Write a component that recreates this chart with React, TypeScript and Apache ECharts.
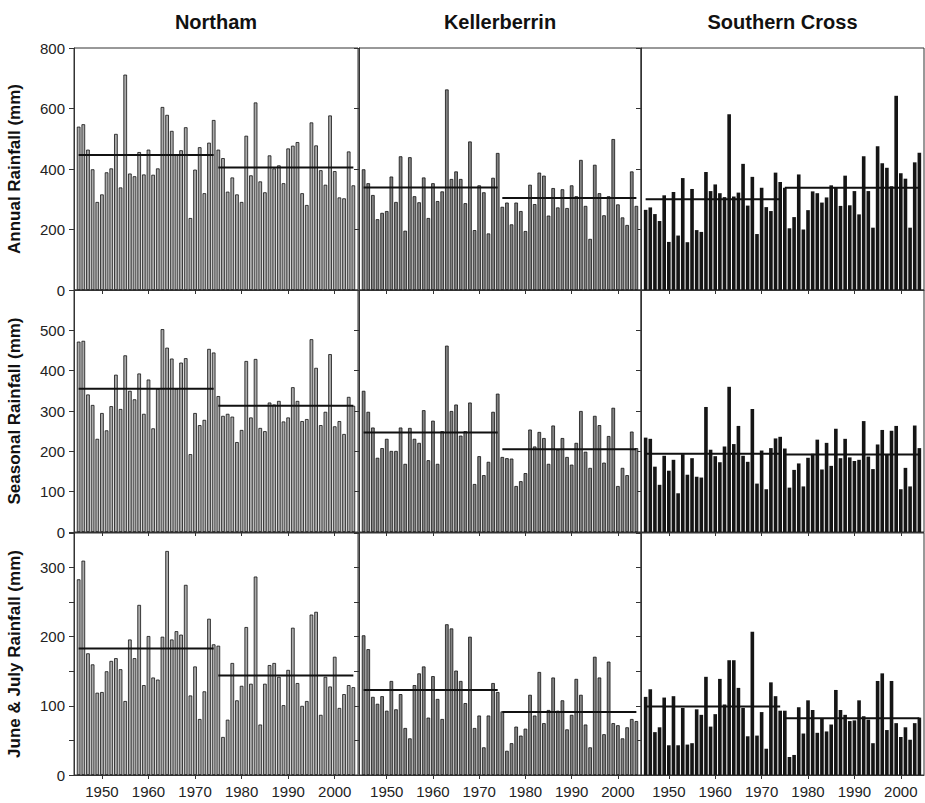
import React, { useEffect, useRef } from "react";
import * as echarts from "echarts";

// axis categories: one empty slot each side (1944, 2005), bars for 1945..2004
const yearCats: string[] = [];
for (let y = 1944; y <= 2005; y++) yearCats.push(String(y));

const stations = ["Northam", "Kellerberrin", "Southern Cross"];
const rowNames = ["Annual Rainfall (mm)", "Seasonal Rainfall (mm)", "June & July Rainfall (mm)"];

// Annual rainfall 1945..2004
const northamAnnual = [540, 548, 464, 399, 291, 316, 389, 402, 516, 339, 712, 385, 376, 456, 382, 464, 381, 402, 605, 579, 526, 446, 462, 538, 238, 398, 472, 320, 487, 562, 464, 436, 325, 372, 316, 291, 510, 379, 620, 359, 323, 445, 402, 412, 353, 468, 477, 489, 320, 281, 554, 478, 396, 348, 577, 393, 306, 303, 458, 346];
const kellerAnnual = [399, 353, 314, 234, 255, 261, 375, 291, 442, 196, 439, 310, 290, 372, 238, 353, 294, 326, 663, 367, 392, 367, 287, 491, 198, 346, 323, 187, 371, 453, 275, 289, 217, 289, 261, 195, 348, 284, 388, 378, 246, 337, 273, 333, 271, 346, 310, 430, 278, 169, 414, 320, 247, 310, 499, 283, 240, 215, 392, 278];
const scAnnual = [265, 273, 251, 228, 313, 159, 324, 180, 370, 158, 334, 198, 192, 390, 327, 349, 320, 307, 581, 309, 322, 417, 279, 374, 185, 338, 274, 261, 388, 357, 338, 204, 241, 382, 200, 264, 326, 320, 289, 306, 346, 338, 278, 378, 280, 327, 250, 442, 327, 206, 475, 419, 404, 343, 642, 386, 368, 206, 422, 454];

// Seasonal rainfall 1945..2004
const northamSeasonal = [472, 474, 341, 315, 231, 295, 252, 312, 390, 305, 438, 350, 329, 393, 293, 378, 257, 355, 503, 457, 430, 355, 420, 431, 193, 295, 265, 278, 454, 445, 337, 288, 293, 286, 223, 253, 424, 284, 429, 258, 250, 321, 316, 325, 274, 284, 359, 325, 275, 280, 478, 407, 265, 298, 441, 262, 275, 243, 335, 313];
const kellerSeasonal = [350, 298, 259, 184, 208, 231, 201, 201, 259, 169, 258, 231, 221, 302, 178, 276, 169, 250, 462, 300, 316, 239, 250, 321, 119, 188, 141, 174, 298, 343, 186, 183, 182, 114, 126, 146, 254, 212, 248, 233, 169, 264, 204, 233, 186, 167, 221, 300, 199, 159, 288, 265, 172, 238, 308, 114, 159, 141, 249, 208];
const scSeasonal = [234, 231, 162, 117, 189, 152, 179, 96, 193, 142, 183, 137, 135, 310, 204, 188, 173, 212, 360, 218, 263, 189, 174, 305, 120, 202, 106, 208, 232, 236, 207, 110, 154, 170, 113, 184, 194, 229, 155, 221, 164, 256, 183, 231, 185, 176, 179, 275, 187, 156, 217, 253, 193, 251, 263, 106, 159, 113, 264, 208];

// June & July rainfall 1945..2004
const northamJJ = [283, 310, 176, 160, 119, 120, 150, 165, 169, 153, 107, 196, 169, 246, 130, 201, 141, 138, 200, 324, 196, 208, 203, 275, 115, 157, 81, 121, 226, 189, 187, 55, 80, 162, 108, 129, 214, 132, 287, 73, 132, 159, 162, 142, 101, 152, 213, 133, 100, 107, 232, 236, 87, 142, 128, 171, 97, 117, 130, 127];
const kellerJJ = [202, 182, 113, 103, 114, 93, 136, 95, 117, 68, 53, 130, 147, 157, 83, 143, 110, 81, 218, 212, 151, 136, 104, 200, 68, 86, 40, 86, 133, 120, 92, 35, 46, 70, 57, 67, 116, 86, 149, 75, 94, 141, 93, 108, 66, 87, 139, 116, 73, 40, 171, 141, 59, 164, 75, 72, 53, 69, 81, 78];
const scJJ = [113, 124, 62, 69, 112, 43, 114, 43, 97, 44, 46, 95, 87, 142, 70, 88, 139, 102, 166, 166, 126, 97, 56, 207, 57, 91, 38, 134, 114, 93, 93, 26, 29, 98, 60, 108, 94, 61, 82, 63, 73, 123, 94, 87, 78, 79, 108, 85, 80, 46, 136, 147, 65, 136, 75, 55, 69, 51, 75, 83];

// period means [1945-1974, 1975-2004] per station
const annualMeans = [[446, 405], [339, 304], [300, 338]];
const seasonalMeans = [[355, 313], [247, 205], [194, 192]];
const jjMeans = [[183, 144], [123, 91], [99, 82]];

const rowData = [
  [northamAnnual, kellerAnnual, scAnnual],
  [northamSeasonal, kellerSeasonal, scSeasonal],
  [northamJJ, kellerJJ, scJJ],
];
const rowMeans = [annualMeans, seasonalMeans, jjMeans];
const rowMax = [800, 600, 350];
const rowInterval = [200, 100, 50];

const FONT = "'Liberation Sans', Arial, Helvetica, sans-serif";
const colLeft = [74, 359, 641];
const colWidth = [284, 282, 283];
const rowTop = [48, 290, 533];
const rowHeight = 242;
const barFill = ["#ababab", "#838383", "#151515"];
const barBorder = ["#111", "#111", "#151515"];

export default function App() {
  const ref = useRef<HTMLDivElement>(null);
  useEffect(() => {
    if (!ref.current) return;
    const chart = echarts.init(ref.current, undefined, { renderer: "svg" });
    const grids: any[] = [];
    const xAxes: any[] = [];
    const yAxes: any[] = [];
    const series: any[] = [];
    const isDecade = (_i: number, v: string) => Number(v) % 10 === 0;
    for (let r = 0; r < 3; r++) {
      for (let c = 0; c < 3; c++) {
        const idx = r * 3 + c;
        grids.push({
          left: colLeft[c],
          top: rowTop[r],
          width: colWidth[c],
          height: rowHeight,
          show: true,
          borderColor: "#333",
          borderWidth: 1,
          backgroundColor: "transparent",
        });
        xAxes.push({
          gridIndex: idx,
          type: "category",
          data: yearCats,
          boundaryGap: false,
          axisLine: { show: true, lineStyle: { color: "#333", width: 1 } },
          axisTick: { show: true, interval: isDecade, length: 4, lineStyle: { color: "#333" } },
          axisLabel: {
            show: r === 2,
            interval: isDecade,
            fontSize: 15,
            color: "#222",
            margin: 9,
            fontFamily: FONT,
          },
          splitLine: { show: false },
        });
        const max = rowMax[r];
        yAxes.push({
          gridIndex: idx,
          type: "value",
          min: 0,
          max,
          interval: rowInterval[r],
          axisLine: { show: true, lineStyle: { color: "#333", width: 1 } },
          axisTick: { show: true, length: 5, lineStyle: { color: "#333" } },
          axisLabel: {
            show: c === 0,
            fontSize: 15,
            color: "#222",
            margin: 9,
            fontFamily: FONT,
            formatter: (v: number) => {
              if (r === 1 && v === 600) return "";
              if (r === 2 && v % 100 !== 0) return "";
              return String(v);
            },
          },
          splitLine: { show: false },
        });
        const vals = rowData[r][c];
        series.push({
          type: "bar",
          xAxisIndex: idx,
          yAxisIndex: idx,
          data: ["-", ...vals, "-"],
          barWidth: "78%",
          silent: true,
          itemStyle: { color: barFill[c], borderColor: barBorder[c], borderWidth: c === 2 ? 0 : 0.8 },
          z: 2,
        });
        const [m1, m2] = rowMeans[r][c];
        series.push({
          type: "line",
          xAxisIndex: idx,
          yAxisIndex: idx,
          data: yearCats.map((y) => (+y >= 1945 && +y <= 1974 ? m1 : "-")),
          symbol: "none",
          silent: true,
          lineStyle: { color: "#111", width: 2 },
          z: 3,
        });
        series.push({
          type: "line",
          xAxisIndex: idx,
          yAxisIndex: idx,
          data: yearCats.map((y) => (+y >= 1975 && +y <= 2004 ? m2 : "-")),
          symbol: "none",
          silent: true,
          lineStyle: { color: "#111", width: 2 },
          z: 3,
        });
      }
    }
    const graphics: any[] = [];
    for (let c = 0; c < 3; c++) {
      graphics.push({
        type: "text",
        x: colLeft[c] + colWidth[c] / 2,
        y: 22,
        style: {
          text: stations[c],
          font: `bold 20px ${FONT}`,
          fill: "#111",
          textAlign: "center",
          textVerticalAlign: "middle",
        },
      });
    }
    for (let r = 0; r < 3; r++) {
      graphics.push({
        type: "text",
        x: 14,
        y: rowTop[r] + rowHeight / 2,
        rotation: Math.PI / 2,
        style: {
          text: rowNames[r],
          font: `bold 17px ${FONT}`,
          fill: "#111",
          textAlign: "center",
          textVerticalAlign: "middle",
        },
      });
    }
    chart.setOption({
      animation: false,
      backgroundColor: "#fff",
      grid: grids,
      xAxis: xAxes,
      yAxis: yAxes,
      series,
      graphic: graphics,
    });
    return () => chart.dispose();
  }, []);
  return (
    <div
      ref={ref}
      style={{ position: "absolute", left: 0, top: 0, width: 925, height: 803 }}
    />
  );
}
